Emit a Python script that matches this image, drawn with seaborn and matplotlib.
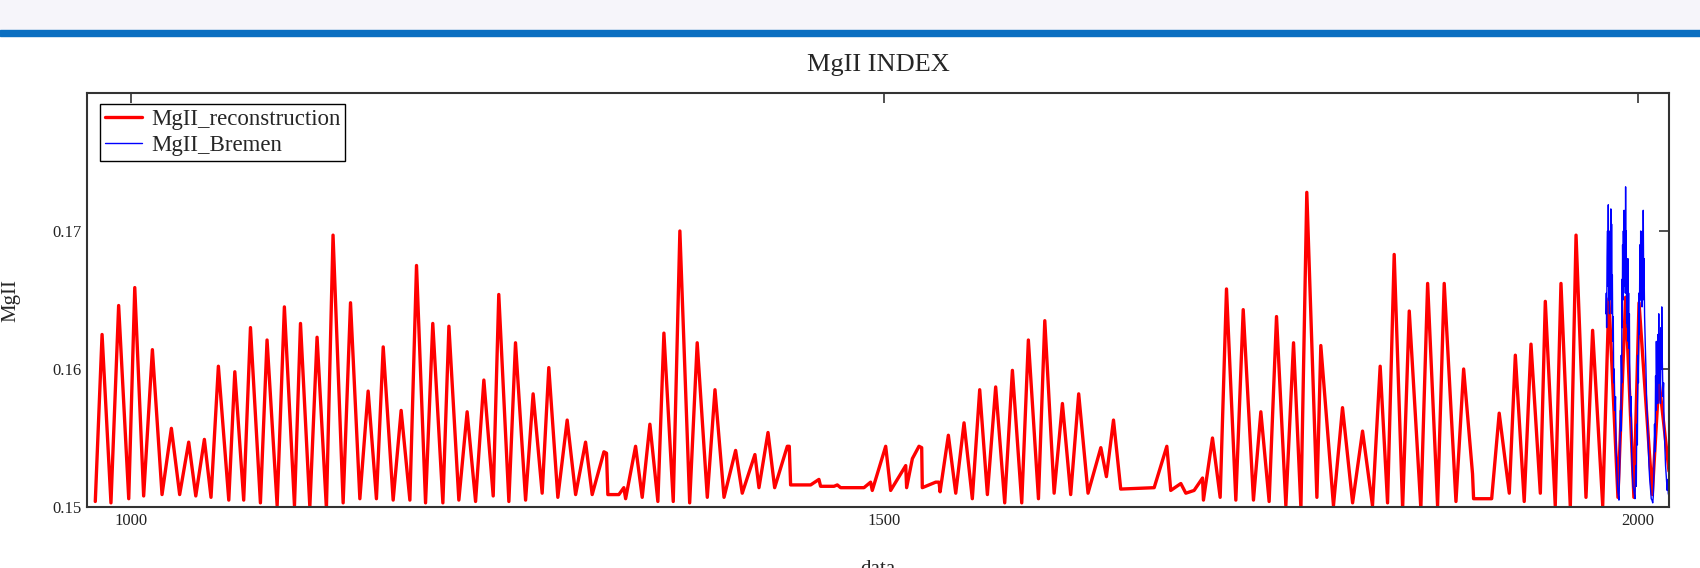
import matplotlib
matplotlib.use("Agg")
import matplotlib.pyplot as plt
import seaborn as sns
import pandas as pd
from matplotlib.patches import Rectangle

# reconstruction: cycle minima / maxima
recon_year = [976.3, 980.8, 986.7, 991.8, 998.5, 1002.5, 1008.4, 1014.2, 1020.6, 1026.8,
              1032.3, 1038.3, 1043.0, 1048.7, 1053.1, 1058.0, 1064.9, 1068.9, 1074.8, 1079.3,
              1085.9, 1090.3, 1097.0, 1101.8, 1108.5, 1112.5, 1118.7, 1123.5, 1129.7, 1134.1,
              1140.8, 1145.7, 1151.9, 1157.4, 1162.9, 1167.4, 1174.0, 1179.3, 1185.1, 1189.5,
              1195.5, 1200.3, 1207.0, 1211.0, 1217.6, 1223.1, 1228.7, 1234.2, 1240.4, 1244.1,
              1250.8, 1255.2, 1261.9, 1266.9, 1272.9, 1277.3, 1283.3, 1289.5, 1295.1, 1301.7,
              1306.1, 1313.9, 1315.6, 1316.5, 1323.8, 1327.1, 1328.3, 1334.9, 1339.3, 1344.4,
              1349.7, 1353.7, 1359.9, 1364.3, 1370.8, 1375.8, 1382.5, 1387.6, 1393.6, 1401.3,
              1405.7, 1414.1, 1416.8, 1422.8, 1427.2, 1435.6, 1436.9, 1437.8, 1451.1, 1456.6,
              1457.7, 1466.6, 1468.8, 1471.0, 1486.5, 1490.9, 1492.0, 1500.9, 1504.2, 1510.9,
              1514.2, 1514.8, 1518.6, 1523.0, 1524.8, 1525.2, 1534.1, 1536.3, 1537.0, 1542.5,
              1547.4, 1552.9, 1558.4, 1563.3, 1568.4, 1573.9, 1579.9, 1585.0, 1591.2, 1595.6,
              1602.3, 1606.5, 1612.7, 1618.2, 1623.7, 1629.0, 1635.2, 1643.7, 1647.4, 1652.1,
              1656.9, 1679.1, 1687.5, 1690.1, 1696.8, 1700.1, 1705.6, 1711.2, 1711.8, 1717.8,
              1722.9, 1727.1, 1733.3, 1738.2, 1745.0, 1749.9, 1755.4, 1760.3, 1766.5, 1771.6,
              1776.5, 1780.4, 1787.1, 1789.7, 1798.1, 1804.1, 1810.8, 1817.4, 1824.0, 1829.1,
              1834.0, 1838.4, 1844.0, 1848.4, 1856.1, 1860.6, 1867.2, 1871.6, 1879.4, 1884.5,
              1890.4, 1891.1, 1903.1, 1908.1, 1914.8, 1918.8, 1924.7, 1929.2, 1935.4, 1938.7,
              1945.3, 1949.1, 1955.3, 1959.1, 1965.7, 1970.1, 1976.8, 1980.9, 1986.9, 1992.0,
              1997.5, 2000.9, 2009.7, 2014.1, 2020.8]
recon_mgii = [0.1504, 0.1625, 0.1503, 0.1646, 0.1506, 0.1659, 0.1508, 0.1614, 0.1509, 0.1557,
              0.1509, 0.1547, 0.1508, 0.1549, 0.1507, 0.1602, 0.1505, 0.1598, 0.1505, 0.1630,
              0.1503, 0.1621, 0.1501, 0.1645, 0.1501, 0.1633, 0.1500, 0.1623, 0.1499, 0.1697,
              0.1503, 0.1648, 0.1506, 0.1584, 0.1506, 0.1616, 0.1505, 0.1570, 0.1505, 0.1675,
              0.1503, 0.1633, 0.1503, 0.1631, 0.1505, 0.1569, 0.1504, 0.1592, 0.1508, 0.1654,
              0.1504, 0.1619, 0.1505, 0.1582, 0.1510, 0.1601, 0.1507, 0.1563, 0.1509, 0.1547,
              0.1509, 0.1540, 0.1539, 0.1509, 0.1509, 0.1514, 0.1506, 0.1544, 0.1507, 0.1560,
              0.1504, 0.1626, 0.1504, 0.1700, 0.1503, 0.1619, 0.1507, 0.1585, 0.1507, 0.1541,
              0.1510, 0.1538, 0.1514, 0.1554, 0.1514, 0.1544, 0.1544, 0.1516, 0.1516, 0.1520,
              0.1515, 0.1515, 0.1516, 0.1514, 0.1514, 0.1518, 0.1512, 0.1544, 0.1512, 0.1524,
              0.1530, 0.1514, 0.1535, 0.1544, 0.1543, 0.1514, 0.1518, 0.1518, 0.1511, 0.1552,
              0.1510, 0.1561, 0.1506, 0.1585, 0.1509, 0.1587, 0.1503, 0.1599, 0.1503, 0.1621,
              0.1506, 0.1635, 0.1510, 0.1575, 0.1509, 0.1582, 0.1510, 0.1543, 0.1522, 0.1563,
              0.1513, 0.1514, 0.1544, 0.1512, 0.1517, 0.1510, 0.1512, 0.1521, 0.1505, 0.1550,
              0.1507, 0.1658, 0.1505, 0.1643, 0.1505, 0.1569, 0.1504, 0.1638, 0.1501, 0.1619,
              0.1499, 0.1728, 0.1507, 0.1617, 0.1501, 0.1572, 0.1503, 0.1555, 0.1501, 0.1602,
              0.1503, 0.1683, 0.1499, 0.1642, 0.1499, 0.1662, 0.1501, 0.1662, 0.1504, 0.1600,
              0.1524, 0.1506, 0.1506, 0.1568, 0.1510, 0.1610, 0.1504, 0.1618, 0.1510, 0.1649,
              0.1501, 0.1662, 0.1500, 0.1697, 0.1507, 0.1628, 0.1501, 0.1651, 0.1507, 0.1652,
              0.1507, 0.1648, 0.1509, 0.1592, 0.1526]

# Bremen composite (noisy)
bremen_year = [1978.9, 1979.2, 1979.4, 1979.7, 1980.0, 1980.2, 1980.5, 1980.8, 1981.0, 1981.3,
               1981.6, 1981.9, 1982.2, 1982.5, 1982.7, 1983.0, 1983.2, 1983.5, 1983.8, 1984.1,
               1984.4, 1984.9, 1985.3, 1985.7, 1986.1, 1986.5, 1987.0, 1987.6, 1988.0, 1988.2,
               1988.6, 1988.9, 1989.1, 1989.4, 1989.6, 1989.8, 1990.0, 1990.3, 1990.5, 1990.8,
               1991.0, 1991.3, 1991.5, 1991.8, 1992.0, 1992.2, 1992.4, 1992.7, 1993.0, 1993.2,
               1993.5, 1993.7, 1994.0, 1994.2, 1994.5, 1994.8, 1995.3, 1995.7, 1996.0, 1996.5,
               1996.9, 1997.5, 1998.2, 1998.5, 1998.8, 1999.1, 1999.4, 1999.8, 2000.2, 2000.5,
               2000.8, 2001.1, 2001.5, 2001.8, 2002.0, 2002.3, 2002.6, 2002.9, 2003.2, 2003.5,
               2003.7, 2004.0, 2004.2, 2004.6, 2005.0, 2005.5, 2006.0, 2006.4, 2007.0, 2007.5,
               2008.0, 2008.6, 2009.0, 2009.5, 2010.0, 2010.4, 2010.8, 2011.2, 2011.5, 2011.9,
               2012.2, 2012.4, 2012.7, 2013.0, 2013.3, 2013.5, 2013.8, 2014.0, 2014.2, 2014.4,
               2014.6, 2014.8, 2015.1, 2015.5, 2015.8, 2016.0, 2016.3, 2016.8, 2017.2, 2017.5,
               2018.0, 2018.5, 2019.0, 2019.6, 2020.0, 2020.3, 2020.7]
bremen_mgii = [0.1640, 0.1655, 0.1630, 0.1680, 0.1700, 0.1660, 0.1719, 0.1650, 0.1690, 0.1640,
               0.1700, 0.1662, 0.1716, 0.1650, 0.1705, 0.1640, 0.1668, 0.1620, 0.1638, 0.1590,
               0.1600, 0.1570, 0.1580, 0.1540, 0.1530, 0.1517, 0.1510, 0.1505, 0.1525, 0.1540,
               0.1570, 0.1555, 0.1610, 0.1590, 0.1665, 0.1630, 0.1690, 0.1650, 0.1700, 0.1660,
               0.1715, 0.1670, 0.1690, 0.1655, 0.1732, 0.1660, 0.1700, 0.1633, 0.1665, 0.1630,
               0.1680, 0.1620, 0.1655, 0.1615, 0.1640, 0.1590, 0.1566, 0.1580, 0.1540, 0.1525,
               0.1515, 0.1512, 0.1506, 0.1520, 0.1530, 0.1515, 0.1560, 0.1545, 0.1610, 0.1590,
               0.1655, 0.1625, 0.1690, 0.1650, 0.1700, 0.1655, 0.1690, 0.1645, 0.1700, 0.1650,
               0.1715, 0.1660, 0.1680, 0.1638, 0.1620, 0.1600, 0.1575, 0.1566, 0.1545, 0.1530,
               0.1520, 0.1512, 0.1506, 0.1505, 0.1503, 0.1508, 0.1525, 0.1560, 0.1540, 0.1595,
               0.1570, 0.1620, 0.1585, 0.1610, 0.1575, 0.1625, 0.1590, 0.1640, 0.1600, 0.1625,
               0.1590, 0.1610, 0.1575, 0.1630, 0.1600, 0.1645, 0.1610, 0.1580, 0.1590, 0.1560,
               0.1545, 0.1530, 0.1522, 0.1512, 0.1520, 0.1510, 0.1508]

x_ticks = [1000, 1500, 2000]
y_ticks = [0.15, 0.16, 0.17]
y_tick_labels = ["0.15", "0.16", "0.17"]

sns.set_style("white")
plt.rcParams['font.family'] = ['Liberation Serif', 'DejaVu Serif']

recon = pd.DataFrame({"data": recon_year, "MgII": recon_mgii})
bremen = pd.DataFrame({"data": bremen_year, "MgII": bremen_mgii})

fig = plt.figure(figsize=(17, 5.68), dpi=100)
ax = fig.add_axes([87 / 1700, 61 / 568, 1582 / 1700, 414 / 568])

# page header strip
fig.patches.append(Rectangle((0, 1 - 30 / 568), 1, 30 / 568, transform=fig.transFigure,
                             color="#f6f5fa", zorder=0))
fig.patches.append(Rectangle((0, 1 - 36 / 568), 1, 6 / 568, transform=fig.transFigure,
                             color="#0b6fc1", zorder=0))

sns.lineplot(data=recon, x="data", y="MgII", color="red", linewidth=2.4,
             estimator=None, sort=False, label="MgII_reconstruction", ax=ax)
sns.lineplot(data=bremen, x="data", y="MgII", color="blue", linewidth=1.0,
             estimator=None, sort=False, label="MgII_Bremen", ax=ax)

ax.set_xlim(970.8, 2020.8)
ax.set_ylim(0.15, 0.18)
ax.set_xticks(x_ticks)
ax.set_yticks(y_ticks)
ax.set_yticklabels(y_tick_labels)
ax.tick_params(direction="in", top=True, right=True, length=7, width=1.2,
               color="#333333", labelsize=12, labelcolor="#222222", pad=4)
for s in ax.spines.values():
    s.set_color("#333333")
    s.set_linewidth(1.5)

ax.set_title("MgII INDEX", fontsize=19, pad=16)
ax.set_ylabel("MgII", fontsize=15)
ax.set_xlabel("data", fontsize=15)
ax.yaxis.set_label_coords(-0.042, 0.5)
ax.xaxis.set_label_coords(0.5, -0.128)

leg = ax.legend(loc="upper left", bbox_to_anchor=(0.0082, 0.9734), borderaxespad=0,
                fontsize=16.5, frameon=True, fancybox=False, framealpha=1,
                edgecolor="black", handlelength=1.65, handletextpad=0.4,
                labelspacing=0.25, borderpad=0.2)
leg.get_frame().set_linewidth(1.0)
leg.get_lines()[0].set_linewidth(2.4)

fig.savefig("out.png", dpi=100)
